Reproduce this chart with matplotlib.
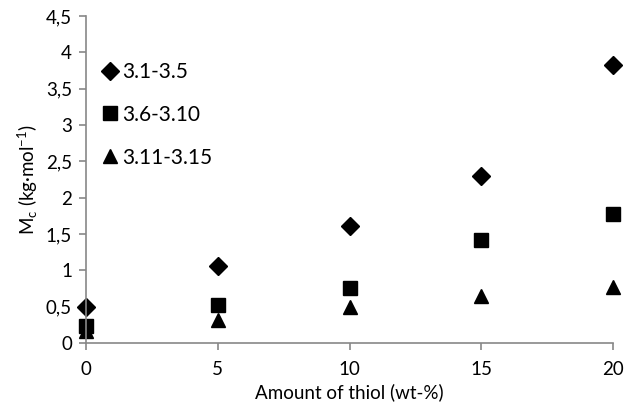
import matplotlib
matplotlib.use("Agg")
import matplotlib.pyplot as plt
from matplotlib.ticker import FuncFormatter, MultipleLocator

plt.rcParams["font.family"] = ["Lato", "DejaVu Sans"]
plt.rcParams["mathtext.default"] = "regular"

# thiol content (wt-%)
thiol = [0, 5, 10, 15, 20]

# Mc values (kg/mol) per sample series
mc_31_35 = [0.49, 1.06, 1.61, 2.30, 3.83]
mc_36_310 = [0.23, 0.52, 0.75, 1.42, 1.78]
mc_311_315 = [0.16, 0.31, 0.50, 0.64, 0.77]

series_labels = ["3.1-3.5", "3.6-3.10", "3.11-3.15"]

GRAY = "#878787"

fig = plt.figure(figsize=(6.25, 4.11), dpi=100)
ax = fig.add_axes([0.1376, 0.1655, 0.981 - 0.1376, 0.961 - 0.1655])

ax.plot(thiol, mc_31_35, "D", color="black", markersize=9, label=series_labels[0])
ax.plot(thiol, mc_36_310, "s", color="black", markersize=10, label=series_labels[1])
ax.plot(thiol, mc_311_315, "^", color="black", markersize=10.5, label=series_labels[2])

ax.set_xlim(0, 20)
ax.set_ylim(0, 4.5)
ax.xaxis.set_major_locator(MultipleLocator(5))
ax.yaxis.set_major_locator(MultipleLocator(0.5))

# decimal comma on the y axis
ax.yaxis.set_major_formatter(FuncFormatter(lambda v, p: f"{v:g}".replace(".", ",")))

for side in ("top", "right"):
    ax.spines[side].set_visible(False)
for side in ("left", "bottom"):
    ax.spines[side].set_color(GRAY)
    ax.spines[side].set_linewidth(1.2)
ax.tick_params(axis="both", direction="out", length=5, width=1.2, color=GRAY,
               labelsize=13.5, labelcolor="black")
ax.tick_params(axis="x", pad=8)
ax.tick_params(axis="y", pad=5)

for ln in ax.lines:
    ln.set_clip_on(False)

ax.set_xlabel("Amount of thiol (wt-%)", fontsize=13.5, labelpad=4)
ax.set_ylabel("M$_c$ (kg·mol$^{-1}$)", fontsize=13.5, labelpad=4)

ax.legend(loc="upper left", bbox_to_anchor=(0.022, 0.86), frameon=False,
          fontsize=15, handletextpad=0.0, labelspacing=1.1, handlelength=1.2,
          borderaxespad=0, borderpad=0)

fig.savefig("out.png", dpi=100)
